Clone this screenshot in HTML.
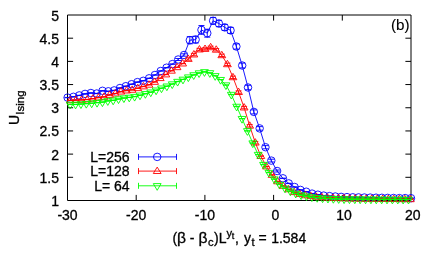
<!DOCTYPE html>
<html><head><meta charset="utf-8"><title>plot</title>
<style>html,body{margin:0;padding:0;background:#fff;}body{width:436px;height:262px;overflow:hidden;font-family:"Liberation Sans",sans-serif;}</style>
</head><body>
<svg width="436" height="262" viewBox="0 0 436 262" style="display:block;will-change:transform">
<rect width="436" height="262" fill="#fff"/>
<path d="M67.5 177.31h5.6M411 177.31h-5.6M67.5 154.12h5.6M411 154.12h-5.6M67.5 130.94h5.6M411 130.94h-5.6M67.5 107.75h5.6M411 107.75h-5.6M67.5 84.56h5.6M411 84.56h-5.6M67.5 61.38h5.6M411 61.38h-5.6M67.5 38.19h5.6M411 38.19h-5.6M136.2 200.5v-5.6M136.2 15v5.6M204.9 200.5v-5.6M204.9 15v5.6M273.6 200.5v-5.6M273.6 15v5.6M342.3 200.5v-5.6M342.3 15v5.6" stroke="#000" stroke-width="1" fill="none"/>
<g font-family="Liberation Sans, sans-serif" font-size="14" fill="#000" stroke="#000" stroke-width="0.3">
<text x="59.0" y="206" text-anchor="end">1</text>
<text x="59.0" y="182.81" text-anchor="end">1.5</text>
<text x="59.0" y="159.62" text-anchor="end">2</text>
<text x="59.0" y="136.44" text-anchor="end">2.5</text>
<text x="59.0" y="113.25" text-anchor="end">3</text>
<text x="59.0" y="90.06" text-anchor="end">3.5</text>
<text x="59.0" y="66.88" text-anchor="end">4</text>
<text x="59.0" y="43.69" text-anchor="end">4.5</text>
<text x="59.0" y="20.5" text-anchor="end">5</text>
<text x="67.5" y="220.4" text-anchor="middle">-30</text>
<text x="136.2" y="220.4" text-anchor="middle">-20</text>
<text x="204.9" y="220.4" text-anchor="middle">-10</text>
<text x="275.4" y="220.4" text-anchor="middle">0</text>
<text x="344.1" y="220.4" text-anchor="middle">10</text>
<text x="412.8" y="220.4" text-anchor="middle">20</text>
<text x="129.6" y="161.9" text-anchor="end" xml:space="preserve">L=256</text>
<text x="129.6" y="176.2" text-anchor="end" xml:space="preserve">L=128</text>
<text x="129.6" y="190.5" text-anchor="end" xml:space="preserve">L= 64</text>
<text x="391.0" y="29.6" textLength="18.6" lengthAdjust="spacingAndGlyphs" font-size="14" stroke-width="0.1">(b)</text>
<g transform="translate(18.9,125) rotate(-90)"><text x="0" y="0">U</text><text x="10.3" y="4.6" font-size="11.5">Ising</text></g>
<text x="172.4" y="242.5">(</text>
<text x="177.0" y="242.5" textLength="9.0" lengthAdjust="spacingAndGlyphs">β</text>
<text x="189.85" y="242.5">-</text>
<text x="198.5" y="242.5" textLength="9.0" lengthAdjust="spacingAndGlyphs">β</text>
<text x="208.0" y="245.6" font-size="11.2">c</text>
<text x="214.0" y="242.5">)L</text>
<text x="226.6" y="236.6" font-size="11.2">y</text>
<text x="231.8" y="239.2" font-size="9">t</text>
<text x="234.9" y="242.5">,</text>
<text x="244.1" y="242.5">y</text>
<text x="251.4" y="245.6" font-size="11.2">t</text>
<text x="258.45" y="242.5">=</text>
<text x="271.15" y="242.5">1.584</text>
</g>
<path d="M67.5 15H411V200.5H67.5Z" stroke="#000" stroke-width="1" fill="none"/>
<path d="M67.6 97.45V97.75M64.6 97.45H70.6M64.6 97.75H70.6M73.42 96.65V96.95M70.42 96.65H76.42M70.42 96.95H76.42M79.24 95.25V95.55M76.24 95.25H82.24M76.24 95.55H82.24M85.06 93.75V94.05M82.06 93.75H88.06M82.06 94.05H88.06M90.88 92.85V93.15M87.88 92.85H93.88M87.88 93.15H93.88M96.7 93.35V93.65M93.7 93.35H99.7M93.7 93.65H99.7M102.52 90.65V90.95M99.52 90.65H105.52M99.52 90.95H105.52M108.34 91.15V91.45M105.34 91.15H111.34M105.34 91.45H111.34M114.16 90.25V90.55M111.16 90.25H117.16M111.16 90.55H117.16M119.98 87.85V88.15M116.98 87.85H122.98M116.98 88.15H122.98M125.8 86.05V86.35M122.8 86.05H128.8M122.8 86.35H128.8M131.62 84.05V84.35M128.62 84.05H134.62M128.62 84.35H134.62M137.44 81.95V82.25M134.44 81.95H140.44M134.44 82.25H140.44M143.26 80.65V80.95M140.26 80.65H146.26M140.26 80.95H146.26M149.08 78.15V78.45M146.08 78.15H152.08M146.08 78.45H152.08M154.9 74.85V75.15M151.9 74.85H157.9M151.9 75.15H157.9M160.72 70.85V71.15M157.72 70.85H163.72M157.72 71.15H163.72M166.54 67.55V67.85M163.54 67.55H169.54M163.54 67.85H169.54M172.36 63.95V64.25M169.36 63.95H175.36M169.36 64.25H175.36M178.18 58.5V60.5M175.18 58.5H181.18M175.18 60.5H181.18M184 53.8V56.2M181 53.8H187M181 56.2H187M189.82 36.6V43.8M186.82 36.6H192.82M186.82 43.8H192.82M195.64 36.2V43M192.64 36.2H198.64M192.64 43H198.64M201.46 25.5V34.3M198.46 25.5H204.46M198.46 34.3H204.46M207.28 29.2V37.2M204.28 29.2H210.28M204.28 37.2H210.28M213.1 17.4V24.2M210.1 17.4H216.1M210.1 24.2H216.1M218.92 20.3V26.7M215.92 20.3H221.92M215.92 26.7H221.92M224.74 24.4V30.4M221.74 24.4H227.74M221.74 30.4H227.74M230.56 27.4V33.4M227.56 27.4H233.56M227.56 33.4H233.56M236.38 43.9V49.1M233.38 43.9H239.38M233.38 49.1H239.38M242.2 63.1V67.9M239.2 63.1H245.2M239.2 67.9H245.2M248.02 85.3V89.7M245.02 85.3H251.02M245.02 89.7H251.02M253.84 109.9V113.9M250.84 109.9H256.84M250.84 113.9H256.84M259.66 126.6V130.2M256.66 126.6H262.66M256.66 130.2H262.66M265.48 145.6V148.8M262.48 145.6H268.48M262.48 148.8H268.48M271.3 159.2V162M268.3 159.2H274.3M268.3 162H274.3M277.12 170V172M274.12 170H280.12M274.12 172H280.12M282.94 178.15V178.45M279.94 178.15H285.94M279.94 178.45H285.94M288.76 183.25V183.55M285.76 183.25H291.76M285.76 183.55H291.76M294.58 186.85V187.15M291.58 186.85H297.58M291.58 187.15H297.58M300.4 189.75V190.05M297.4 189.75H303.4M297.4 190.05H303.4M306.22 191.55V191.85M303.22 191.55H309.22M303.22 191.85H309.22M312.04 193.45V193.75M309.04 193.45H315.04M309.04 193.75H315.04M317.86 194.55V194.85M314.86 194.55H320.86M314.86 194.85H320.86M323.68 195.45V195.75M320.68 195.45H326.68M320.68 195.75H326.68M329.5 195.95V196.25M326.5 195.95H332.5M326.5 196.25H332.5M335.32 196.35V196.65M332.32 196.35H338.32M332.32 196.65H338.32M341.14 196.75V197.05M338.14 196.75H344.14M338.14 197.05H344.14M346.96 196.95V197.25M343.96 196.95H349.96M343.96 197.25H349.96M352.78 197.15V197.45M349.78 197.15H355.78M349.78 197.45H355.78M358.6 197.25V197.55M355.6 197.25H361.6M355.6 197.55H361.6M364.42 197.35V197.65M361.42 197.35H367.42M361.42 197.65H367.42M370.24 197.45V197.75M367.24 197.45H373.24M367.24 197.75H373.24M376.06 197.55V197.85M373.06 197.55H379.06M373.06 197.85H379.06M381.88 197.65V197.95M378.88 197.65H384.88M378.88 197.95H384.88M387.7 197.75V198.05M384.7 197.75H390.7M384.7 198.05H390.7M393.52 197.85V198.15M390.52 197.85H396.52M390.52 198.15H396.52M399.34 197.95V198.25M396.34 197.95H402.34M396.34 198.25H402.34M405.16 197.95V198.25M402.16 197.95H408.16M402.16 198.25H408.16M410.98 198.05V198.35M407.98 198.05H413.98M407.98 198.35H413.98" stroke="#0000ff" fill="none" stroke-width="0.9"/>
<polyline points="67.6,97.6 73.42,96.8 79.24,95.4 85.06,93.9 90.88,93 96.7,93.5 102.52,90.8 108.34,91.3 114.16,90.4 119.98,88 125.8,86.2 131.62,84.2 137.44,82.1 143.26,80.8 149.08,78.3 154.9,75 160.72,71 166.54,67.7 172.36,64.1 178.18,59.5 184,55 189.82,40.2 195.64,39.6 201.46,29.9 207.28,33.2 213.1,20.8 218.92,23.5 224.74,27.4 230.56,30.4 236.38,46.5 242.2,65.5 248.02,87.5 253.84,111.9 259.66,128.4 265.48,147.2 271.3,160.6 277.12,171 282.94,178.3 288.76,183.4 294.58,187 300.4,189.9 306.22,191.7 312.04,193.6 317.86,194.7 323.68,195.6 329.5,196.1 335.32,196.5 341.14,196.9 346.96,197.1 352.78,197.3 358.6,197.4 364.42,197.5 370.24,197.6 376.06,197.7 381.88,197.8 387.7,197.9 393.52,198 399.34,198.1 405.16,198.1 410.98,198.2" stroke="#0000ff" fill="none" stroke-width="0.9"/>
<path d="M63.85 97.6a3.75 3.75 0 1 0 7.5 0a3.75 3.75 0 1 0 -7.5 0M69.67 96.8a3.75 3.75 0 1 0 7.5 0a3.75 3.75 0 1 0 -7.5 0M75.49 95.4a3.75 3.75 0 1 0 7.5 0a3.75 3.75 0 1 0 -7.5 0M81.31 93.9a3.75 3.75 0 1 0 7.5 0a3.75 3.75 0 1 0 -7.5 0M87.13 93a3.75 3.75 0 1 0 7.5 0a3.75 3.75 0 1 0 -7.5 0M92.95 93.5a3.75 3.75 0 1 0 7.5 0a3.75 3.75 0 1 0 -7.5 0M98.77 90.8a3.75 3.75 0 1 0 7.5 0a3.75 3.75 0 1 0 -7.5 0M104.59 91.3a3.75 3.75 0 1 0 7.5 0a3.75 3.75 0 1 0 -7.5 0M110.41 90.4a3.75 3.75 0 1 0 7.5 0a3.75 3.75 0 1 0 -7.5 0M116.23 88a3.75 3.75 0 1 0 7.5 0a3.75 3.75 0 1 0 -7.5 0M122.05 86.2a3.75 3.75 0 1 0 7.5 0a3.75 3.75 0 1 0 -7.5 0M127.87 84.2a3.75 3.75 0 1 0 7.5 0a3.75 3.75 0 1 0 -7.5 0M133.69 82.1a3.75 3.75 0 1 0 7.5 0a3.75 3.75 0 1 0 -7.5 0M139.51 80.8a3.75 3.75 0 1 0 7.5 0a3.75 3.75 0 1 0 -7.5 0M145.33 78.3a3.75 3.75 0 1 0 7.5 0a3.75 3.75 0 1 0 -7.5 0M151.15 75a3.75 3.75 0 1 0 7.5 0a3.75 3.75 0 1 0 -7.5 0M156.97 71a3.75 3.75 0 1 0 7.5 0a3.75 3.75 0 1 0 -7.5 0M162.79 67.7a3.75 3.75 0 1 0 7.5 0a3.75 3.75 0 1 0 -7.5 0M168.61 64.1a3.75 3.75 0 1 0 7.5 0a3.75 3.75 0 1 0 -7.5 0M174.43 59.5a3.75 3.75 0 1 0 7.5 0a3.75 3.75 0 1 0 -7.5 0M180.25 55a3.75 3.75 0 1 0 7.5 0a3.75 3.75 0 1 0 -7.5 0M186.07 40.2a3.75 3.75 0 1 0 7.5 0a3.75 3.75 0 1 0 -7.5 0M191.89 39.6a3.75 3.75 0 1 0 7.5 0a3.75 3.75 0 1 0 -7.5 0M197.71 29.9a3.75 3.75 0 1 0 7.5 0a3.75 3.75 0 1 0 -7.5 0M203.53 33.2a3.75 3.75 0 1 0 7.5 0a3.75 3.75 0 1 0 -7.5 0M209.35 20.8a3.75 3.75 0 1 0 7.5 0a3.75 3.75 0 1 0 -7.5 0M215.17 23.5a3.75 3.75 0 1 0 7.5 0a3.75 3.75 0 1 0 -7.5 0M220.99 27.4a3.75 3.75 0 1 0 7.5 0a3.75 3.75 0 1 0 -7.5 0M226.81 30.4a3.75 3.75 0 1 0 7.5 0a3.75 3.75 0 1 0 -7.5 0M232.63 46.5a3.75 3.75 0 1 0 7.5 0a3.75 3.75 0 1 0 -7.5 0M238.45 65.5a3.75 3.75 0 1 0 7.5 0a3.75 3.75 0 1 0 -7.5 0M244.27 87.5a3.75 3.75 0 1 0 7.5 0a3.75 3.75 0 1 0 -7.5 0M250.09 111.9a3.75 3.75 0 1 0 7.5 0a3.75 3.75 0 1 0 -7.5 0M255.91 128.4a3.75 3.75 0 1 0 7.5 0a3.75 3.75 0 1 0 -7.5 0M261.73 147.2a3.75 3.75 0 1 0 7.5 0a3.75 3.75 0 1 0 -7.5 0M267.55 160.6a3.75 3.75 0 1 0 7.5 0a3.75 3.75 0 1 0 -7.5 0M273.37 171a3.75 3.75 0 1 0 7.5 0a3.75 3.75 0 1 0 -7.5 0M279.19 178.3a3.75 3.75 0 1 0 7.5 0a3.75 3.75 0 1 0 -7.5 0M285.01 183.4a3.75 3.75 0 1 0 7.5 0a3.75 3.75 0 1 0 -7.5 0M290.83 187a3.75 3.75 0 1 0 7.5 0a3.75 3.75 0 1 0 -7.5 0M296.65 189.9a3.75 3.75 0 1 0 7.5 0a3.75 3.75 0 1 0 -7.5 0M302.47 191.7a3.75 3.75 0 1 0 7.5 0a3.75 3.75 0 1 0 -7.5 0M308.29 193.6a3.75 3.75 0 1 0 7.5 0a3.75 3.75 0 1 0 -7.5 0M314.11 194.7a3.75 3.75 0 1 0 7.5 0a3.75 3.75 0 1 0 -7.5 0M319.93 195.6a3.75 3.75 0 1 0 7.5 0a3.75 3.75 0 1 0 -7.5 0M325.75 196.1a3.75 3.75 0 1 0 7.5 0a3.75 3.75 0 1 0 -7.5 0M331.57 196.5a3.75 3.75 0 1 0 7.5 0a3.75 3.75 0 1 0 -7.5 0M337.39 196.9a3.75 3.75 0 1 0 7.5 0a3.75 3.75 0 1 0 -7.5 0M343.21 197.1a3.75 3.75 0 1 0 7.5 0a3.75 3.75 0 1 0 -7.5 0M349.03 197.3a3.75 3.75 0 1 0 7.5 0a3.75 3.75 0 1 0 -7.5 0M354.85 197.4a3.75 3.75 0 1 0 7.5 0a3.75 3.75 0 1 0 -7.5 0M360.67 197.5a3.75 3.75 0 1 0 7.5 0a3.75 3.75 0 1 0 -7.5 0M366.49 197.6a3.75 3.75 0 1 0 7.5 0a3.75 3.75 0 1 0 -7.5 0M372.31 197.7a3.75 3.75 0 1 0 7.5 0a3.75 3.75 0 1 0 -7.5 0M378.13 197.8a3.75 3.75 0 1 0 7.5 0a3.75 3.75 0 1 0 -7.5 0M383.95 197.9a3.75 3.75 0 1 0 7.5 0a3.75 3.75 0 1 0 -7.5 0M389.77 198a3.75 3.75 0 1 0 7.5 0a3.75 3.75 0 1 0 -7.5 0M395.59 198.1a3.75 3.75 0 1 0 7.5 0a3.75 3.75 0 1 0 -7.5 0M401.41 198.1a3.75 3.75 0 1 0 7.5 0a3.75 3.75 0 1 0 -7.5 0M407.23 198.2a3.75 3.75 0 1 0 7.5 0a3.75 3.75 0 1 0 -7.5 0" stroke="#0000ff" fill="none" stroke-width="0.9"/>
<path d="M70.3 100.25V100.55M67.3 100.25H73.3M67.3 100.55H73.3M75.93 99.95V100.25M72.93 99.95H78.93M72.93 100.25H78.93M81.55 99.76V100.06M78.55 99.76H84.55M78.55 100.06H84.55M87.18 99.37V99.67M84.18 99.37H90.18M84.18 99.67H90.18M92.8 98.56V98.86M89.8 98.56H95.8M89.8 98.86H95.8M98.43 97.45V97.75M95.43 97.45H101.43M95.43 97.75H101.43M104.05 96.76V97.06M101.05 96.76H107.05M101.05 97.06H107.05M109.68 94.83V95.13M106.68 94.83H112.68M106.68 95.13H112.68M115.3 93.38V93.68M112.3 93.38H118.3M112.3 93.68H118.3M120.92 91.54V91.84M117.92 91.54H123.92M117.92 91.84H123.92M126.54 90.42V90.72M123.54 90.42H129.54M123.54 90.72H129.54M132.16 89.73V90.03M129.16 89.73H135.16M129.16 90.03H135.16M137.78 88.06V88.36M134.78 88.06H140.78M134.78 88.36H140.78M143.4 86.31V86.61M140.4 86.31H146.4M140.4 86.61H146.4M149.01 84.64V84.94M146.01 84.64H152.01M146.01 84.94H152.01M154.62 81.79V82.09M151.62 81.79H157.62M151.62 82.09H157.62M160.23 78.03V78.33M157.23 78.03H163.23M157.23 78.33H163.23M165.84 74.35V74.65M162.84 74.35H168.84M162.84 74.65H168.84M171.45 70.62V70.92M168.45 70.62H174.45M168.45 70.92H174.45M177.05 67.11V67.41M174.05 67.11H180.05M174.05 67.41H180.05M182.66 63.42V63.72M179.66 63.42H185.66M179.66 63.72H185.66M188.26 57.79V60.19M185.26 57.79H191.26M185.26 60.19H191.26M193.86 53.36V55.76M190.86 53.36H196.86M190.86 55.76H196.86M199.45 48.34V50.74M196.45 48.34H202.45M196.45 50.74H202.45M205.04 47.81V50.21M202.04 47.81H208.04M202.04 50.21H208.04M210.64 46.12V48.52M207.64 46.12H213.64M207.64 48.52H213.64M216.22 48.58V50.98M213.22 48.58H219.22M213.22 50.98H219.22M221.81 54.11V56.51M218.81 54.11H224.81M218.81 56.51H224.81M227.39 63.11V65.51M224.39 63.11H230.39M224.39 65.51H230.39M232.97 76.13V78.53M229.97 76.13H235.97M229.97 78.53H235.97M238.55 90.9V93.3M235.55 90.9H241.55M235.55 93.3H241.55M244.12 106.38V108.78M241.12 106.38H247.12M241.12 108.78H247.12M249.7 124.59V126.99M246.7 124.59H252.7M246.7 126.99H252.7M255.27 141.46V143.86M252.27 141.46H258.27M252.27 143.86H258.27M260.83 155.91V156.21M257.83 155.91H263.83M257.83 156.21H263.83M266.4 166.35V166.65M263.4 166.35H269.4M263.4 166.65H269.4M271.96 174.79V175.09M268.96 174.79H274.96M268.96 175.09H274.96M277.52 181.26V181.56M274.52 181.26H280.52M274.52 181.56H280.52M283.08 185.75V186.05M280.08 185.75H286.08M280.08 186.05H286.08M288.63 189.24V189.54M285.63 189.24H291.63M285.63 189.54H291.63M294.18 192.04V192.34M291.18 192.04H297.18M291.18 192.34H297.18M299.73 193.86V194.16M296.73 193.86H302.73M296.73 194.16H302.73M305.28 195.18V195.48M302.28 195.18H308.28M302.28 195.48H308.28M310.82 196.09V196.39M307.82 196.09H313.82M307.82 196.39H313.82M316.37 196.7V197M313.37 196.7H319.37M313.37 197H319.37M321.91 197.21V197.51M318.91 197.21H324.91M318.91 197.51H324.91M327.45 197.61V197.91M324.45 197.61H330.45M324.45 197.91H330.45M332.99 197.86V198.16M329.99 197.86H335.99M329.99 198.16H335.99M338.52 198.09V198.39M335.52 198.09H341.52M335.52 198.39H341.52M344.05 198.25V198.55M341.05 198.25H347.05M341.05 198.55H347.05M349.59 198.39V198.69M346.59 198.39H352.59M346.59 198.69H352.59M355.12 198.53V198.83M352.12 198.53H358.12M352.12 198.83H358.12M360.65 198.66V198.96M357.65 198.66H363.65M357.65 198.96H363.65M366.18 198.71V199.01M363.18 198.71H369.18M363.18 199.01H369.18M371.7 198.76V199.06M368.7 198.76H374.7M368.7 199.06H374.7M377.23 198.82V199.12M374.23 198.82H380.23M374.23 199.12H380.23M382.75 198.87V199.17M379.75 198.87H385.75M379.75 199.17H385.75M388.28 198.93V199.23M385.28 198.93H391.28M385.28 199.23H391.28M393.8 198.98V199.28M390.8 198.98H396.8M390.8 199.28H396.8M399.33 199.04V199.34M396.33 199.04H402.33M396.33 199.34H402.33M404.85 199.09V199.39M401.85 199.09H407.85M401.85 199.39H407.85M410.38 199.14V199.44M407.38 199.14H413.38M407.38 199.44H413.38" stroke="#ff0000" fill="none" stroke-width="0.9"/>
<polyline points="70.3,100.4 75.93,100.1 81.55,99.91 87.18,99.52 92.8,98.71 98.43,97.6 104.05,96.91 109.68,94.98 115.3,93.53 120.92,91.69 126.54,90.57 132.16,89.88 137.78,88.21 143.4,86.46 149.01,84.79 154.62,81.94 160.23,78.18 165.84,74.5 171.45,70.77 177.05,67.26 182.66,63.57 188.26,58.99 193.86,54.56 199.45,49.54 205.04,49.01 210.64,47.32 216.22,49.78 221.81,55.31 227.39,64.31 232.97,77.33 238.55,92.1 244.12,107.58 249.7,125.79 255.27,142.66 260.83,156.06 266.4,166.5 271.96,174.94 277.52,181.41 283.08,185.9 288.63,189.39 294.18,192.19 299.73,194.01 305.28,195.33 310.82,196.24 316.37,196.85 321.91,197.36 327.45,197.76 332.99,198.01 338.52,198.24 344.05,198.4 349.59,198.54 355.12,198.68 360.65,198.81 366.18,198.86 371.7,198.91 377.23,198.97 382.75,199.02 388.28,199.08 393.8,199.13 399.33,199.19 404.85,199.24 410.38,199.29" stroke="#ff0000" fill="none" stroke-width="0.9"/>
<path d="M70.3 96.4L66.4 102.8L74.2 102.8ZM75.93 96.1L72.03 102.5L79.83 102.5ZM81.55 95.91L77.65 102.31L85.45 102.31ZM87.18 95.52L83.28 101.92L91.08 101.92ZM92.8 94.71L88.9 101.11L96.7 101.11ZM98.43 93.6L94.53 100L102.33 100ZM104.05 92.91L100.15 99.31L107.95 99.31ZM109.68 90.98L105.78 97.38L113.58 97.38ZM115.3 89.53L111.4 95.93L119.2 95.93ZM120.92 87.69L117.02 94.09L124.82 94.09ZM126.54 86.57L122.64 92.97L130.44 92.97ZM132.16 85.88L128.26 92.28L136.06 92.28ZM137.78 84.21L133.88 90.61L141.68 90.61ZM143.4 82.46L139.5 88.86L147.3 88.86ZM149.01 80.79L145.11 87.19L152.91 87.19ZM154.62 77.94L150.72 84.34L158.52 84.34ZM160.23 74.18L156.33 80.58L164.13 80.58ZM165.84 70.5L161.94 76.9L169.74 76.9ZM171.45 66.77L167.55 73.17L175.35 73.17ZM177.05 63.26L173.15 69.66L180.95 69.66ZM182.66 59.57L178.76 65.97L186.56 65.97ZM188.26 54.99L184.36 61.39L192.16 61.39ZM193.86 50.56L189.96 56.96L197.76 56.96ZM199.45 45.54L195.55 51.94L203.35 51.94ZM205.04 45.01L201.14 51.41L208.94 51.41ZM210.64 43.32L206.74 49.72L214.54 49.72ZM216.22 45.78L212.32 52.18L220.12 52.18ZM221.81 51.31L217.91 57.71L225.71 57.71ZM227.39 60.31L223.49 66.71L231.29 66.71ZM232.97 73.33L229.07 79.73L236.87 79.73ZM238.55 88.1L234.65 94.5L242.45 94.5ZM244.12 103.58L240.22 109.98L248.02 109.98ZM249.7 121.79L245.8 128.19L253.6 128.19ZM255.27 138.66L251.37 145.06L259.17 145.06ZM260.83 152.06L256.93 158.46L264.73 158.46ZM266.4 162.5L262.5 168.9L270.3 168.9ZM271.96 170.94L268.06 177.34L275.86 177.34ZM277.52 177.41L273.62 183.81L281.42 183.81ZM283.08 181.9L279.18 188.3L286.98 188.3ZM288.63 185.39L284.73 191.79L292.53 191.79ZM294.18 188.19L290.28 194.59L298.08 194.59ZM299.73 190.01L295.83 196.41L303.63 196.41ZM305.28 191.33L301.38 197.73L309.18 197.73ZM310.82 192.24L306.92 198.64L314.72 198.64ZM316.37 192.85L312.47 199.25L320.27 199.25ZM321.91 193.36L318.01 199.76L325.81 199.76ZM327.45 193.76L323.55 200.16L331.35 200.16ZM332.99 194.01L329.09 200.41L336.89 200.41ZM338.52 194.24L334.62 200.64L342.42 200.64ZM344.05 194.4L340.15 200.8L347.95 200.8ZM349.59 194.54L345.69 200.94L353.49 200.94ZM355.12 194.68L351.22 201.08L359.02 201.08ZM360.65 194.81L356.75 201.21L364.55 201.21ZM366.18 194.86L362.28 201.26L370.08 201.26ZM371.7 194.91L367.8 201.31L375.6 201.31ZM377.23 194.97L373.33 201.37L381.13 201.37ZM382.75 195.02L378.85 201.42L386.65 201.42ZM388.28 195.08L384.38 201.48L392.18 201.48ZM393.8 195.13L389.9 201.53L397.7 201.53ZM399.33 195.19L395.43 201.59L403.23 201.59ZM404.85 195.24L400.95 201.64L408.75 201.64ZM410.38 195.29L406.48 201.69L414.27 201.69Z" stroke="#ff0000" fill="none" stroke-width="0.9"/>
<path d="M70.2 104.25V104.55M67.2 104.25H73.2M67.2 104.55H73.2M75.57 104.25V104.55M72.57 104.25H78.57M72.57 104.55H78.57M80.94 103.89V104.19M77.94 103.89H83.94M77.94 104.19H83.94M86.31 103.48V103.78M83.31 103.48H89.31M83.31 103.78H89.31M91.68 103.08V103.38M88.68 103.08H94.68M88.68 103.38H94.68M97.05 102.48V102.78M94.05 102.48H100.05M94.05 102.78H100.05M102.42 101.95V102.25M99.42 101.95H105.42M99.42 102.25H105.42M107.79 100.75V101.05M104.79 100.75H110.79M104.79 101.05H110.79M113.16 100.14V100.44M110.16 100.14H116.16M110.16 100.44H116.16M118.53 98.9V99.2M115.53 98.9H121.53M115.53 99.2H121.53M123.9 97.89V98.19M120.9 97.89H126.9M120.9 98.19H126.9M129.27 97.25V97.55M126.27 97.25H132.27M126.27 97.55H132.27M134.64 96.44V96.74M131.64 96.44H137.64M131.64 96.74H137.64M140.01 95.06V95.36M137.01 95.06H143.01M137.01 95.36H143.01M145.38 93.61V93.91M142.38 93.61H148.38M142.38 93.91H148.38M150.75 92.03V92.33M147.75 92.03H153.75M147.75 92.33H153.75M156.12 90.06V90.36M153.12 90.06H159.12M153.12 90.36H159.12M161.49 88.03V88.33M158.49 88.03H164.49M158.49 88.33H164.49M166.86 86.05V86.35M163.86 86.05H169.86M163.86 86.35H169.86M172.23 83.9V84.2M169.23 83.9H175.23M169.23 84.2H175.23M177.6 81.39V81.69M174.6 81.39H180.6M174.6 81.69H180.6M182.97 79.23V79.53M179.97 79.23H185.97M179.97 79.53H185.97M188.34 76.95V77.25M185.34 76.95H191.34M185.34 77.25H191.34M193.71 74.8V75.1M190.71 74.8H196.71M190.71 75.1H196.71M199.08 72.86V73.16M196.08 72.86H202.08M196.08 73.16H202.08M204.45 71.72V72.02M201.45 71.72H207.45M201.45 72.02H207.45M209.82 72.73V73.03M206.82 72.73H212.82M206.82 73.03H212.82M215.19 75.69V75.99M212.19 75.69H218.19M212.19 75.99H218.19M220.56 79.51V79.81M217.56 79.51H223.56M217.56 79.81H223.56M225.93 84.88V85.18M222.93 84.88H228.93M222.93 85.18H228.93M231.3 94.37V94.67M228.3 94.37H234.3M228.3 94.67H234.3M236.67 106.31V106.61M233.67 106.31H239.67M233.67 106.61H239.67M242.04 118.51V118.81M239.04 118.51H245.04M239.04 118.81H245.04M247.41 130.72V131.02M244.41 130.72H250.41M244.41 131.02H250.41M252.78 142.92V143.22M249.78 142.92H255.78M249.78 143.22H255.78M258.15 154.4V154.7M255.15 154.4H261.15M255.15 154.7H261.15M263.52 164.45V164.75M260.52 164.45H266.52M260.52 164.75H266.52M268.89 172.41V172.71M265.89 172.41H271.89M265.89 172.71H271.89M274.26 178.98V179.28M271.26 178.98H277.26M271.26 179.28H277.26M279.63 184.39V184.69M276.63 184.39H282.63M276.63 184.69H282.63M285 188.13V188.43M282 188.13H288M282 188.43H288M290.37 191.02V191.32M287.37 191.02H293.37M287.37 191.32H293.37M295.74 193.3V193.6M292.74 193.3H298.74M292.74 193.6H298.74M301.11 194.9V195.2M298.11 194.9H304.11M298.11 195.2H304.11M306.48 195.98V196.28M303.48 195.98H309.48M303.48 196.28H309.48M311.85 196.89V197.19M308.85 196.89H314.85M308.85 197.19H314.85M317.22 197.54V197.84M314.22 197.54H320.22M314.22 197.84H320.22M322.59 197.95V198.25M319.59 197.95H325.59M319.59 198.25H325.59M327.96 198.31V198.61M324.96 198.31H330.96M324.96 198.61H330.96M333.33 198.56V198.86M330.33 198.56H336.33M330.33 198.86H336.33M338.7 198.74V199.04M335.7 198.74H341.7M335.7 199.04H341.7M344.07 198.92V199.22M341.07 198.92H347.07M341.07 199.22H347.07M349.44 198.98V199.28M346.44 198.98H352.44M346.44 199.28H352.44M354.81 199.01V199.31M351.81 199.01H357.81M351.81 199.31H357.81M360.18 199.04V199.34M357.18 199.04H363.18M357.18 199.34H363.18M365.55 199.07V199.37M362.55 199.07H368.55M362.55 199.37H368.55M370.92 199.11V199.41M367.92 199.11H373.92M367.92 199.41H373.92M376.29 199.14V199.44M373.29 199.14H379.29M373.29 199.44H379.29M381.66 199.17V199.47M378.66 199.17H384.66M378.66 199.47H384.66M387.03 199.2V199.5M384.03 199.2H390.03M384.03 199.5H390.03M392.4 199.24V199.54M389.4 199.24H395.4M389.4 199.54H395.4M397.77 199.27V199.57M394.77 199.27H400.77M394.77 199.57H400.77M403.14 199.3V199.6M400.14 199.3H406.14M400.14 199.6H406.14M408.51 199.33V199.63M405.51 199.33H411.51M405.51 199.63H411.51" stroke="#00ff00" fill="none" stroke-width="0.9"/>
<polyline points="70.2,104.4 75.57,104.4 80.94,104.04 86.31,103.63 91.68,103.23 97.05,102.63 102.42,102.1 107.79,100.9 113.16,100.29 118.53,99.05 123.9,98.04 129.27,97.4 134.64,96.59 140.01,95.21 145.38,93.76 150.75,92.18 156.12,90.21 161.49,88.18 166.86,86.2 172.23,84.05 177.6,81.54 182.97,79.38 188.34,77.1 193.71,74.95 199.08,73.01 204.45,71.87 209.82,72.88 215.19,75.84 220.56,79.66 225.93,85.03 231.3,94.52 236.67,106.46 242.04,118.66 247.41,130.87 252.78,143.07 258.15,154.55 263.52,164.6 268.89,172.56 274.26,179.13 279.63,184.54 285,188.28 290.37,191.17 295.74,193.45 301.11,195.05 306.48,196.13 311.85,197.04 317.22,197.69 322.59,198.1 327.96,198.46 333.33,198.71 338.7,198.89 344.07,199.07 349.44,199.13 354.81,199.16 360.18,199.19 365.55,199.22 370.92,199.26 376.29,199.29 381.66,199.32 387.03,199.35 392.4,199.39 397.77,199.42 403.14,199.45 408.51,199.48" stroke="#00ff00" fill="none" stroke-width="0.9"/>
<path d="M70.2 108.9L66.3 102.2L74.1 102.2ZM75.57 108.9L71.67 102.2L79.47 102.2ZM80.94 108.54L77.04 101.84L84.84 101.84ZM86.31 108.13L82.41 101.43L90.21 101.43ZM91.68 107.73L87.78 101.03L95.58 101.03ZM97.05 107.13L93.15 100.43L100.95 100.43ZM102.42 106.6L98.52 99.9L106.32 99.9ZM107.79 105.4L103.89 98.7L111.69 98.7ZM113.16 104.79L109.26 98.09L117.06 98.09ZM118.53 103.55L114.63 96.85L122.43 96.85ZM123.9 102.54L120 95.84L127.8 95.84ZM129.27 101.9L125.37 95.2L133.17 95.2ZM134.64 101.09L130.74 94.39L138.54 94.39ZM140.01 99.71L136.11 93.01L143.91 93.01ZM145.38 98.26L141.48 91.56L149.28 91.56ZM150.75 96.68L146.85 89.98L154.65 89.98ZM156.12 94.71L152.22 88.01L160.02 88.01ZM161.49 92.68L157.59 85.98L165.39 85.98ZM166.86 90.7L162.96 84L170.76 84ZM172.23 88.55L168.33 81.85L176.13 81.85ZM177.6 86.04L173.7 79.34L181.5 79.34ZM182.97 83.88L179.07 77.18L186.87 77.18ZM188.34 81.6L184.44 74.9L192.24 74.9ZM193.71 79.45L189.81 72.75L197.61 72.75ZM199.08 77.51L195.18 70.81L202.98 70.81ZM204.45 76.37L200.55 69.67L208.35 69.67ZM209.82 77.38L205.92 70.68L213.72 70.68ZM215.19 80.34L211.29 73.64L219.09 73.64ZM220.56 84.16L216.66 77.46L224.46 77.46ZM225.93 89.53L222.03 82.83L229.83 82.83ZM231.3 99.02L227.4 92.32L235.2 92.32ZM236.67 110.96L232.77 104.26L240.57 104.26ZM242.04 123.16L238.14 116.46L245.94 116.46ZM247.41 135.37L243.51 128.67L251.31 128.67ZM252.78 147.57L248.88 140.87L256.68 140.87ZM258.15 159.05L254.25 152.35L262.05 152.35ZM263.52 169.1L259.62 162.4L267.42 162.4ZM268.89 177.06L264.99 170.36L272.79 170.36ZM274.26 183.63L270.36 176.93L278.16 176.93ZM279.63 189.04L275.73 182.34L283.53 182.34ZM285 192.78L281.1 186.08L288.9 186.08ZM290.37 195.67L286.47 188.97L294.27 188.97ZM295.74 197.95L291.84 191.25L299.64 191.25ZM301.11 199.55L297.21 192.85L305.01 192.85ZM306.48 200.63L302.58 193.93L310.38 193.93ZM311.85 201.54L307.95 194.84L315.75 194.84ZM317.22 202.19L313.32 195.49L321.12 195.49ZM322.59 202.6L318.69 195.9L326.49 195.9ZM327.96 202.96L324.06 196.26L331.86 196.26ZM333.33 203.21L329.43 196.51L337.23 196.51ZM338.7 203.39L334.8 196.69L342.6 196.69ZM344.07 203.57L340.17 196.87L347.97 196.87ZM349.44 203.63L345.54 196.93L353.34 196.93ZM354.81 203.66L350.91 196.96L358.71 196.96ZM360.18 203.69L356.28 196.99L364.08 196.99ZM365.55 203.72L361.65 197.02L369.45 197.02ZM370.92 203.76L367.02 197.06L374.82 197.06ZM376.29 203.79L372.39 197.09L380.19 197.09ZM381.66 203.82L377.76 197.12L385.56 197.12ZM387.03 203.85L383.13 197.15L390.93 197.15ZM392.4 203.89L388.5 197.19L396.3 197.19ZM397.77 203.92L393.87 197.22L401.67 197.22ZM403.14 203.95L399.24 197.25L407.04 197.25ZM408.51 203.98L404.61 197.28L412.41 197.28Z" stroke="#00ff00" fill="none" stroke-width="0.9"/>
<path d="M138.5 156.9H176.5M138.5 153.9v6M176.5 153.9v6M153.45 156.9a3.75 3.75 0 1 0 7.5 0a3.75 3.75 0 1 0 -7.5 0" stroke="#0000ff" fill="none" stroke-width="0.9"/>
<path d="M138.5 171.1H176.5M138.5 168.1v6M176.5 168.1v6M157.2 167.1L153.3 173.5L161.1 173.5Z" stroke="#ff0000" fill="none" stroke-width="0.9"/>
<path d="M138.5 185.8H176.5M138.5 182.8v6M176.5 182.8v6M157.2 190.3L153.3 183.6L161.1 183.6Z" stroke="#00ff00" fill="none" stroke-width="0.9"/>
</svg>
</body></html>
